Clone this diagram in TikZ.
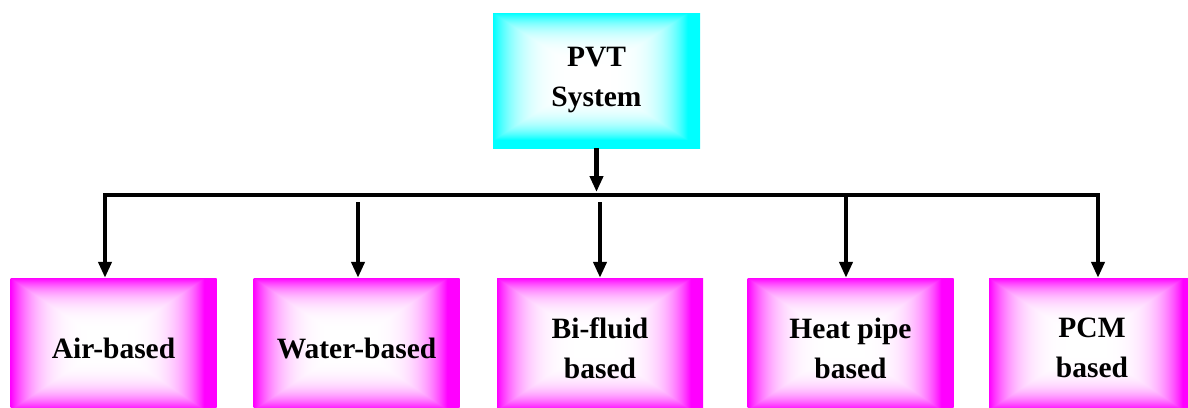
\documentclass[tikz,border=0pt]{standalone}
\usepackage{fontspec}
\setmainfont{Liberation Serif}
\usetikzlibrary{arrows.meta, positioning}

% bevel-like fill, white middle going to full colour at the edges
\pgfdeclarefunctionalshading{pinkglow}{\pgfpoint{-50bp}{-50bp}}{\pgfpoint{50bp}{50bp}}{}{
  1.5 sub exch 1.5 add
  abs exch abs 2 copy lt {exch} if pop
  23.5 div dup 1 gt {pop 1} if
  dup mul dup mul
  1 exch sub
  1 exch 1
}
\pgfdeclarefunctionalshading{cyanglow}{\pgfpoint{-50bp}{-50bp}}{\pgfpoint{50bp}{50bp}}{}{
  1.5 sub exch 1.5 add
  abs exch abs 2 copy lt {exch} if pop
  23.5 div dup 1 gt {pop 1} if
  dup mul dup mul
  1 exch sub
  1 1
}

\begin{document}
\begin{tikzpicture}[x=1pt, y=-1pt,
  box/.style={rectangle, align=center, text=black,
    font=\fontsize{29.5}{40}\selectfont\bfseries},
  typebox/.style={box, shading=pinkglow, minimum width=206pt, minimum height=140pt},
  rootbox/.style={box, shading=cyanglow, minimum width=207pt, minimum height=135pt},
  conn/.style={line width=4.5pt, line cap=rect},
  arr/.style={line width=4.5pt, -{Triangle[width=13pt,length=16pt]}}]

\useasboundingbox (0,0) rectangle (1188,407);

\node [rootbox] (pvt) at (596.5,80.5) {PVT\\System};

\node [typebox] (air)   at (113.5,348) {Air-based};
\node [typebox] (water) at (356.5,348) {Water-based};
\node [typebox] (bi)    at (600,348)   {Bi-fluid\\based};
\node [typebox] (heat)  at (850.5,348) {Heat pipe\\based};
\node [typebox] (pcm)   at (1092,348)  {PCM\\based};

\coordinate (bus) at (0,195);

% bus line
\draw[conn] ([xshift=-8.5pt]air.north |- bus) -- ([xshift=6pt]pcm.north |- bus);
\draw[arr, shorten >=3pt] (pvt.south) -- (pvt.south |- bus);

% branches
\draw[arr] ([xshift=-8.5pt]air.north |- bus) -- ([xshift=-8.5pt]air.north);
\draw[arr, shorten <=7pt] ([xshift=1.5pt]water.north |- bus) -- ([xshift=1.5pt]water.north);
\draw[arr, shorten <=7pt] (bi.north |- bus) -- (bi.north);
\draw[arr] ([xshift=-4.5pt]heat.north |- bus) -- ([xshift=-4.5pt]heat.north);
\draw[arr] ([xshift=6pt]pcm.north |- bus) -- ([xshift=6pt]pcm.north);
\end{tikzpicture}
\end{document}
